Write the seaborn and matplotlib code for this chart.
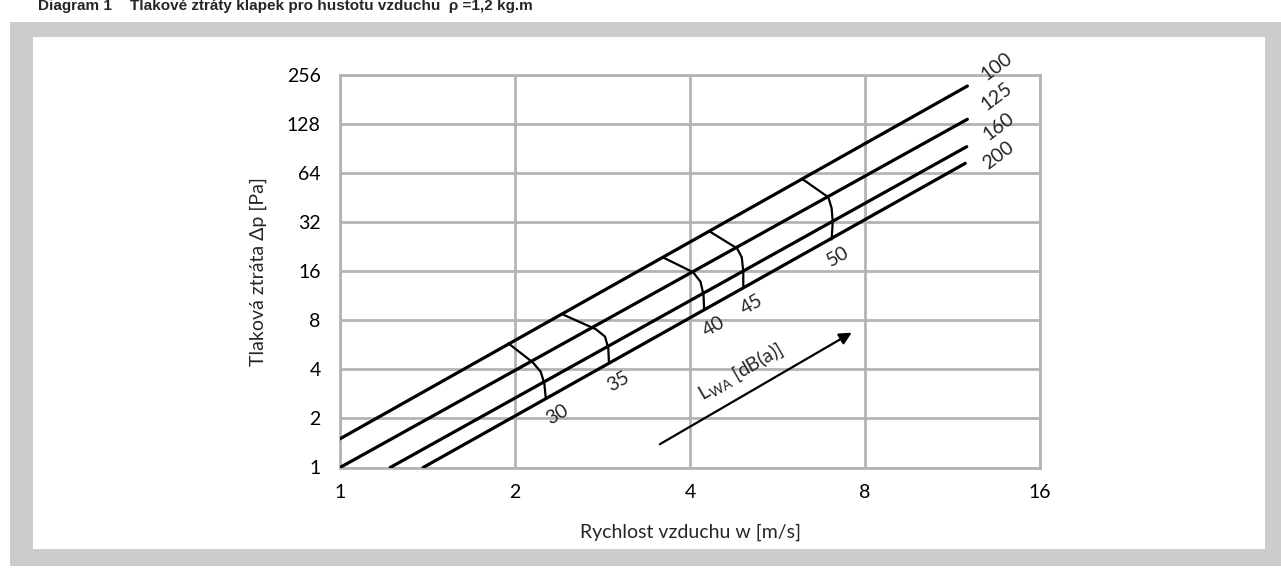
import matplotlib
matplotlib.use("Agg")
import matplotlib.pyplot as plt
from matplotlib.patches import Rectangle
import pandas as pd
import seaborn as sns

# ---------------- data ----------------
x_ticks = [1, 2, 4, 8, 16]
x_tick_labels = ["1", "2", "4", "8", "16"]
y_ticks = [1, 2, 4, 8, 16, 32, 64, 128, 256]
y_tick_labels = ["1", "2", "4", "8", "16", "32", "64", "128", "256"]

size_names = ["100", "125", "160", "200"]
w_100 = [1.0, 12.0]
p_100 = [1.5, 219.0]
w_125 = [1.0, 12.0]
p_125 = [1.0, 137.0]
w_160 = [1.22, 11.97]
p_160 = [1.0, 93.0]
w_200 = [1.39, 11.9]
p_200 = [1.0, 73.5]
size_label_w = [13.5, 13.5, 13.56, 13.56]
size_label_p = [288.0, 188.0, 124.6, 82.7]

db_names = ["30", "35", "40", "45", "50"]
w_30 = [1.948, 2.145, 2.214, 2.246, 2.259]
p_30 = [5.78, 4.42, 3.87, 3.29, 2.68]
w_35 = [2.406, 2.756, 2.857, 2.894, 2.902]
p_35 = [8.75, 7.05, 6.35, 5.39, 4.36]
w_40 = [3.59, 4.05, 4.17, 4.22, 4.23]
p_40 = [19.5, 15.77, 13.8, 11.44, 9.35]
w_45 = [4.33, 4.82, 4.91, 4.94, 4.94]
p_45 = [27.98, 22.1, 19.5, 15.9, 13.0]
w_50 = [6.25, 6.92, 7.01, 7.04, 7.01]
p_50 = [58.7, 45.5, 38.9, 32.2, 25.1]
db_label_w = [2.36, 3.01, 4.39, 5.11, 7.2]
db_label_p = [2.1, 3.39, 7.31, 9.93, 19.7]

arrow_w = [3.55, 7.59]
arrow_p = [1.39, 6.72]
lwa_label_w = 4.88
lwa_label_p = 3.87

title_left = "Diagram 1"
title_right = "Tlakové ztráty klapek pro hustotu vzduchu  ρ =1,2 kg.m"
x_label = "Rychlost vzduchu w [m/s]"
y_label = "Tlaková ztráta Δp [Pa]"

# ---------------- figure ----------------
sns.set_style("white")
plt.rcParams["font.family"] = ["Lato", "DejaVu Sans"]
plt.rcParams["mathtext.default"] = "regular"

W, H = 1281, 569
fig = plt.figure(figsize=(W / 100, H / 100), dpi=100, facecolor="white")


def fx(px):
    return px / W


def fy(py):
    return 1 - py / H


# gray frame + white panel
fig.add_artist(Rectangle((fx(10), fy(566)), fx(1281) - fx(10), fy(22) - fy(566),
                         transform=fig.transFigure, facecolor="#cccccc",
                         edgecolor="none", zorder=-5))
fig.add_artist(Rectangle((fx(33), fy(549)), fx(1265) - fx(33), fy(37) - fy(549),
                         transform=fig.transFigure, facecolor="white",
                         edgecolor="none", zorder=-4))

title_font = ["Liberation Sans", "DejaVu Sans"]
fig.text(fx(38), fy(10), title_left, fontsize=11, fontweight="bold",
         family=title_font, va="baseline", ha="left")
fig.text(fx(130), fy(10), title_right, fontsize=11, fontweight="bold",
         family=title_font, va="baseline", ha="left")

ax = fig.add_axes([fx(340), fy(467.5), fx(1040) - fx(340), fy(75) - fy(467.5)])
ax.set_facecolor("white")

grid_color = "#b5b3b3"
fs = 14

series = [(w_100, p_100), (w_125, p_125), (w_160, p_160), (w_200, p_200)]
for (w, p) in series:
    sns.lineplot(x=w, y=p, ax=ax, color="black", linewidth=2.3,
                 sort=False, estimator=None, zorder=5)

curves = [(w_30, p_30), (w_35, p_35), (w_40, p_40), (w_45, p_45), (w_50, p_50)]
for (w, p) in curves:
    sns.lineplot(x=w, y=p, ax=ax, color="black", linewidth=1.6,
                 sort=False, estimator=None, zorder=5)

ax.set_xscale("log", base=2)
ax.set_yscale("log", base=2)
ax.set_xlim(1, 16)
ax.set_ylim(1, 256)
ax.set_xticks(x_ticks)
ax.set_xticklabels(x_tick_labels)
ax.set_yticks(y_ticks)
ax.set_yticklabels(y_tick_labels)
ax.minorticks_off()
ax.tick_params(length=0, labelsize=fs, colors="black")
ax.tick_params(axis="x", pad=12)
ax.tick_params(axis="y", pad=14)
ax.grid(True, color=grid_color, linewidth=2.0)
ax.set_axisbelow(True)
for s in ax.spines.values():
    s.set_visible(True)
    s.set_color(grid_color)
    s.set_linewidth(2.0)

ax.set_xlabel(x_label, fontsize=fs, labelpad=16)
ax.set_ylabel(y_label, fontsize=fs, labelpad=14)

for name, lw_, lp_ in zip(size_names, size_label_w, size_label_p):
    ax.text(lw_, lp_, name, fontsize=fs, rotation=37, ha="center", va="center",
            rotation_mode="anchor", clip_on=False)

for name, lw_, lp_ in zip(db_names, db_label_w, db_label_p):
    ax.text(lw_, lp_, name, fontsize=fs, rotation=30, ha="center", va="center",
            rotation_mode="anchor")

ax.annotate("", xy=(arrow_w[1], arrow_p[1]), xytext=(arrow_w[0], arrow_p[0]),
            arrowprops=dict(arrowstyle="-|>", color="black", lw=1.6,
                            mutation_scale=18, shrinkA=0, shrinkB=0))
ax.text(lwa_label_w, lwa_label_p, r"L$_{WA}$ [dB(a)]", fontsize=fs, rotation=30,
        ha="center", va="center", rotation_mode="anchor")

fig.savefig("out.png", dpi=100, facecolor="white")
